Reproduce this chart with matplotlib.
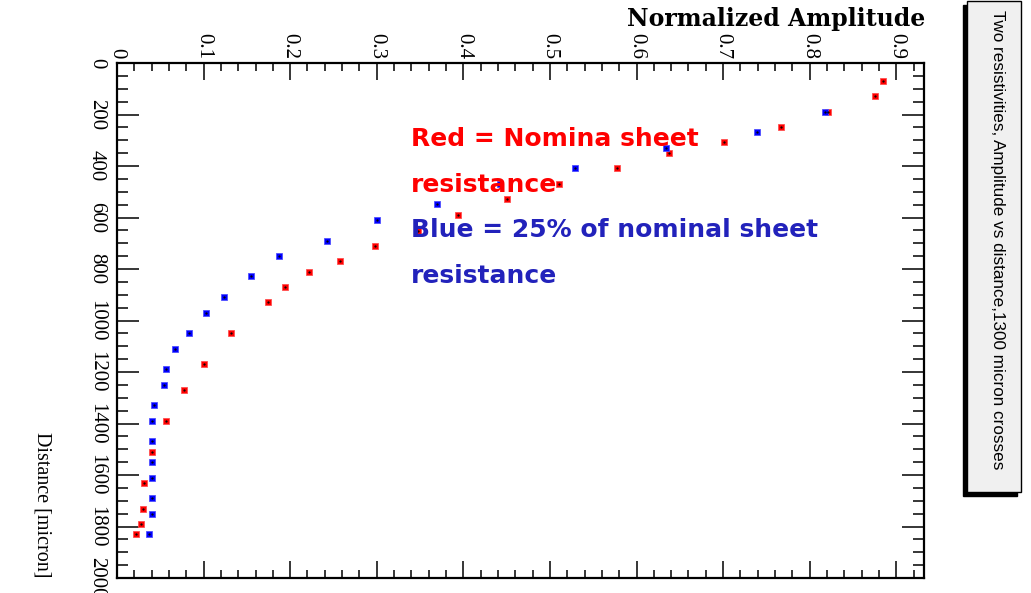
import numpy as np
import matplotlib
matplotlib.use("Agg")
import matplotlib.pyplot as plt
from matplotlib.patches import Rectangle

# data (distance in micron, normalized amplitude)
red_dist = [69, 128, 189, 248, 308, 348, 409, 470, 529, 590, 654, 709, 770, 810,
            869, 930, 1049, 1169, 1270, 1389, 1510, 1630, 1731, 1790, 1830]
red_amp = [0.885, 0.875, 0.821, 0.767, 0.701, 0.637, 0.577, 0.510, 0.450, 0.394,
           0.348, 0.298, 0.257, 0.222, 0.194, 0.174, 0.132, 0.101, 0.077, 0.057,
           0.040, 0.031, 0.030, 0.028, 0.022]

blue_dist = [189, 268, 329, 409, 470, 548, 609, 690, 749, 829, 909, 970, 1049,
             1110, 1190, 1250, 1330, 1389, 1469, 1550, 1610, 1691, 1750, 1830]
blue_amp = [0.818, 0.739, 0.634, 0.529, 0.442, 0.370, 0.300, 0.243, 0.187, 0.155,
            0.124, 0.103, 0.083, 0.067, 0.057, 0.054, 0.043, 0.040, 0.040, 0.040,
            0.040, 0.040, 0.040, 0.037]

x_ticks = [0, 0.1, 0.2, 0.3, 0.4, 0.5, 0.6, 0.7, 0.8, 0.9]
x_labels = ["0", "0.1", "0.2", "0.3", "0.4", "0.5", "0.6", "0.7", "0.8", "0.9"]
y_ticks = [0, 200, 400, 600, 800, 1000, 1200, 1400, 1600, 1800, 2000]
y_labels = ["0", "200", "400", "600", "800", "1000", "1200", "1400", "1600", "1800", "2000"]

W, H = 1031, 593
fig = plt.figure(figsize=(W / 100, H / 100), dpi=100)
fig.patch.set_facecolor("white")

def fx(px):
    return px / W

def fy(py):
    return 1 - py / H

ax = fig.add_axes([fx(117), fy(578), fx(924) - fx(117), fy(63) - fy(578)])
ax.set_xlim(0, 0.932)
ax.set_ylim(2000, 0)

ax.plot(red_amp, red_dist, "s", color="#ff0000", mec="#ff5050", ms=4.5, mew=0.6, zorder=3)
ax.plot(red_amp, red_dist, ".", color="black", ms=1.2, zorder=4)
ax.plot(blue_amp, blue_dist, "s", color="#0000ff", mec="#5050ff", ms=4.5, mew=0.6, zorder=3)
ax.plot(blue_amp, blue_dist, ".", color="black", ms=1.2, zorder=4)

serif = ["Liberation Serif", "DejaVu Serif"]

ax.xaxis.tick_top()
ax.set_xticks(x_ticks)
ax.set_xticklabels(x_labels, rotation=-90, family=serif, fontsize=15)
ax.set_xticks(np.arange(0, 0.93, 0.02), minor=True)
ax.set_yticks(y_ticks)
ax.set_yticklabels(y_labels, rotation=-90, family=serif, fontsize=15, va="center")
ax.set_yticks(np.arange(0, 2001, 50), minor=True)

ax.tick_params(axis="x", which="both", top=True, bottom=True, direction="in", width=1.1, pad=3)
ax.tick_params(axis="x", which="major", length=12)
ax.tick_params(axis="x", which="minor", length=6)
ax.tick_params(axis="y", which="both", left=True, right=True, direction="in", width=1.1, pad=8)
ax.tick_params(axis="y", which="major", length=16)
ax.tick_params(axis="y", which="minor", length=8)
for s in ax.spines.values():
    s.set_linewidth(1.6)

fig.text(fx(925), fy(19), "Normalized Amplitude", ha="right", va="center",
         family=["DejaVu Serif"], fontweight="bold", fontsize=17)
fig.text(fx(42), fy(577), "Distance [micron]", ha="center", va="bottom", rotation=-90,
         family=serif, fontsize=14.5)

# annotation text
fig.text(fx(411), fy(139), "Red = Nomina sheet", color="#ff0000", fontweight="bold",
         fontsize=18, family=["DejaVu Sans"], va="center", ha="left")
fig.text(fx(411), fy(185), "resistance", color="#ff0000", fontweight="bold",
         fontsize=18, family=["DejaVu Sans"], va="center", ha="left")
fig.text(fx(411), fy(230), "Blue = 25% of nominal sheet", color="#2222bb", fontweight="bold",
         fontsize=18, family=["DejaVu Sans"], va="center", ha="left")
fig.text(fx(411), fy(276), "resistance", color="#2222bb", fontweight="bold",
         fontsize=18, family=["DejaVu Sans"], va="center", ha="left")

# title box with shadow
fig.patches.append(Rectangle((fx(963), fy(496)), fx(54), fy(5) - fy(496),
                             transform=fig.transFigure, facecolor="black", edgecolor="black"))
fig.patches.append(Rectangle((fx(967), fy(492)), fx(54), fy(1) - fy(492),
                             transform=fig.transFigure, facecolor="#f0f0f0",
                             edgecolor="black", linewidth=1))
fig.text(fx(997), fy(240), "Two resistivities, Amplitude vs distance,1300 micron crosses",
         rotation=-90, ha="center", va="center", fontsize=12.3,
         family=["Liberation Sans"])

fig.savefig("out.png", dpi=100)
